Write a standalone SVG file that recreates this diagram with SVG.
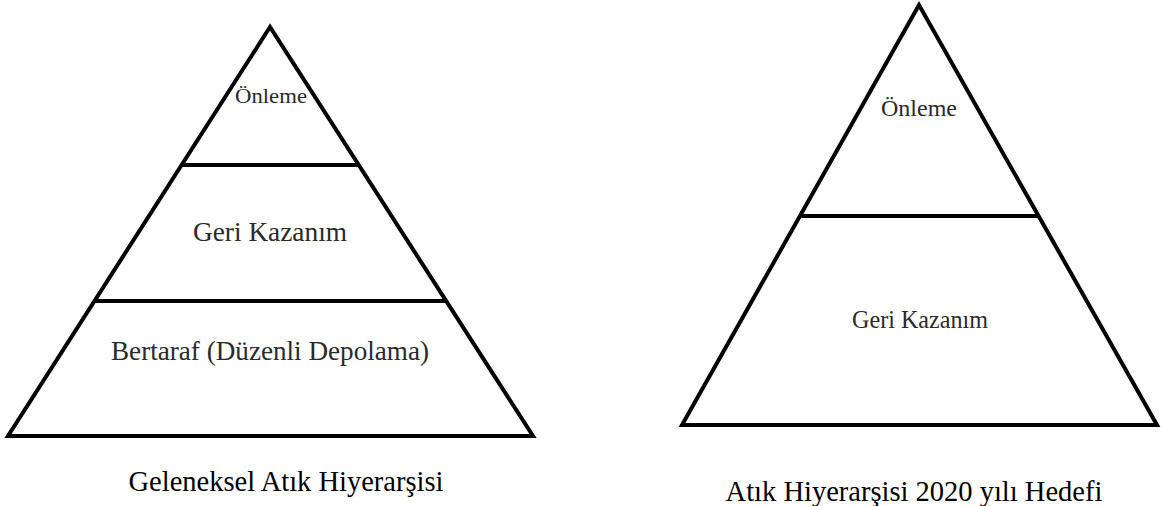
<svg xmlns="http://www.w3.org/2000/svg" width="1161" height="506" viewBox="0 0 1161 506">
<style>
.tri{fill:#ffffff;stroke:#000000;stroke-width:4;stroke-linejoin:miter}
.div{stroke:#000000;stroke-width:4}
.lbl{font-family:"Liberation Serif","Times New Roman",serif;fill:#2a2a2a;text-anchor:middle}
.cap{font-family:"Liberation Serif","Times New Roman",serif;fill:#000000;font-size:28.5px;text-anchor:middle}
</style>
<rect width="1161" height="506" fill="#ffffff"/>
<g id="pyramid-left">
<polygon class="tri" points="270,27 8,436 533,436"/>
<line class="div" x1="182" y1="165" x2="359" y2="165"/>
<line class="div" x1="94" y1="301" x2="446" y2="301"/>
</g>
<g id="pyramid-right">
<polygon class="tri" points="919,5 682,425 1157,425"/>
<line class="div" x1="800" y1="216" x2="1039" y2="216"/>
</g>
<g id="left-onleme"><text class="lbl" x="271" y="103" font-size="22" textLength="72" lengthAdjust="spacingAndGlyphs">Önleme</text></g>
<g id="left-geri-kazanim"><text class="lbl" x="270" y="241" font-size="27" textLength="154" lengthAdjust="spacingAndGlyphs">Geri Kazanım</text></g>
<g id="left-bertaraf"><text class="lbl" x="270" y="360" font-size="27" textLength="318" lengthAdjust="spacingAndGlyphs">Bertaraf (Düzenli Depolama)</text></g>
<g id="right-onleme"><text class="lbl" x="919" y="116" font-size="24" textLength="76" lengthAdjust="spacingAndGlyphs">Önleme</text></g>
<g id="right-geri-kazanim"><text class="lbl" x="920" y="328" font-size="25" textLength="136" lengthAdjust="spacingAndGlyphs">Geri Kazanım</text></g>
<g id="caption-left"><text class="cap" x="286" y="491">Geleneksel Atık Hiyerarşisi</text></g>
<g id="caption-right"><text class="cap" x="914" y="501">Atık Hiyerarşisi 2020 yılı Hedefi</text></g>
<g id="connectors"></g>
</svg>
